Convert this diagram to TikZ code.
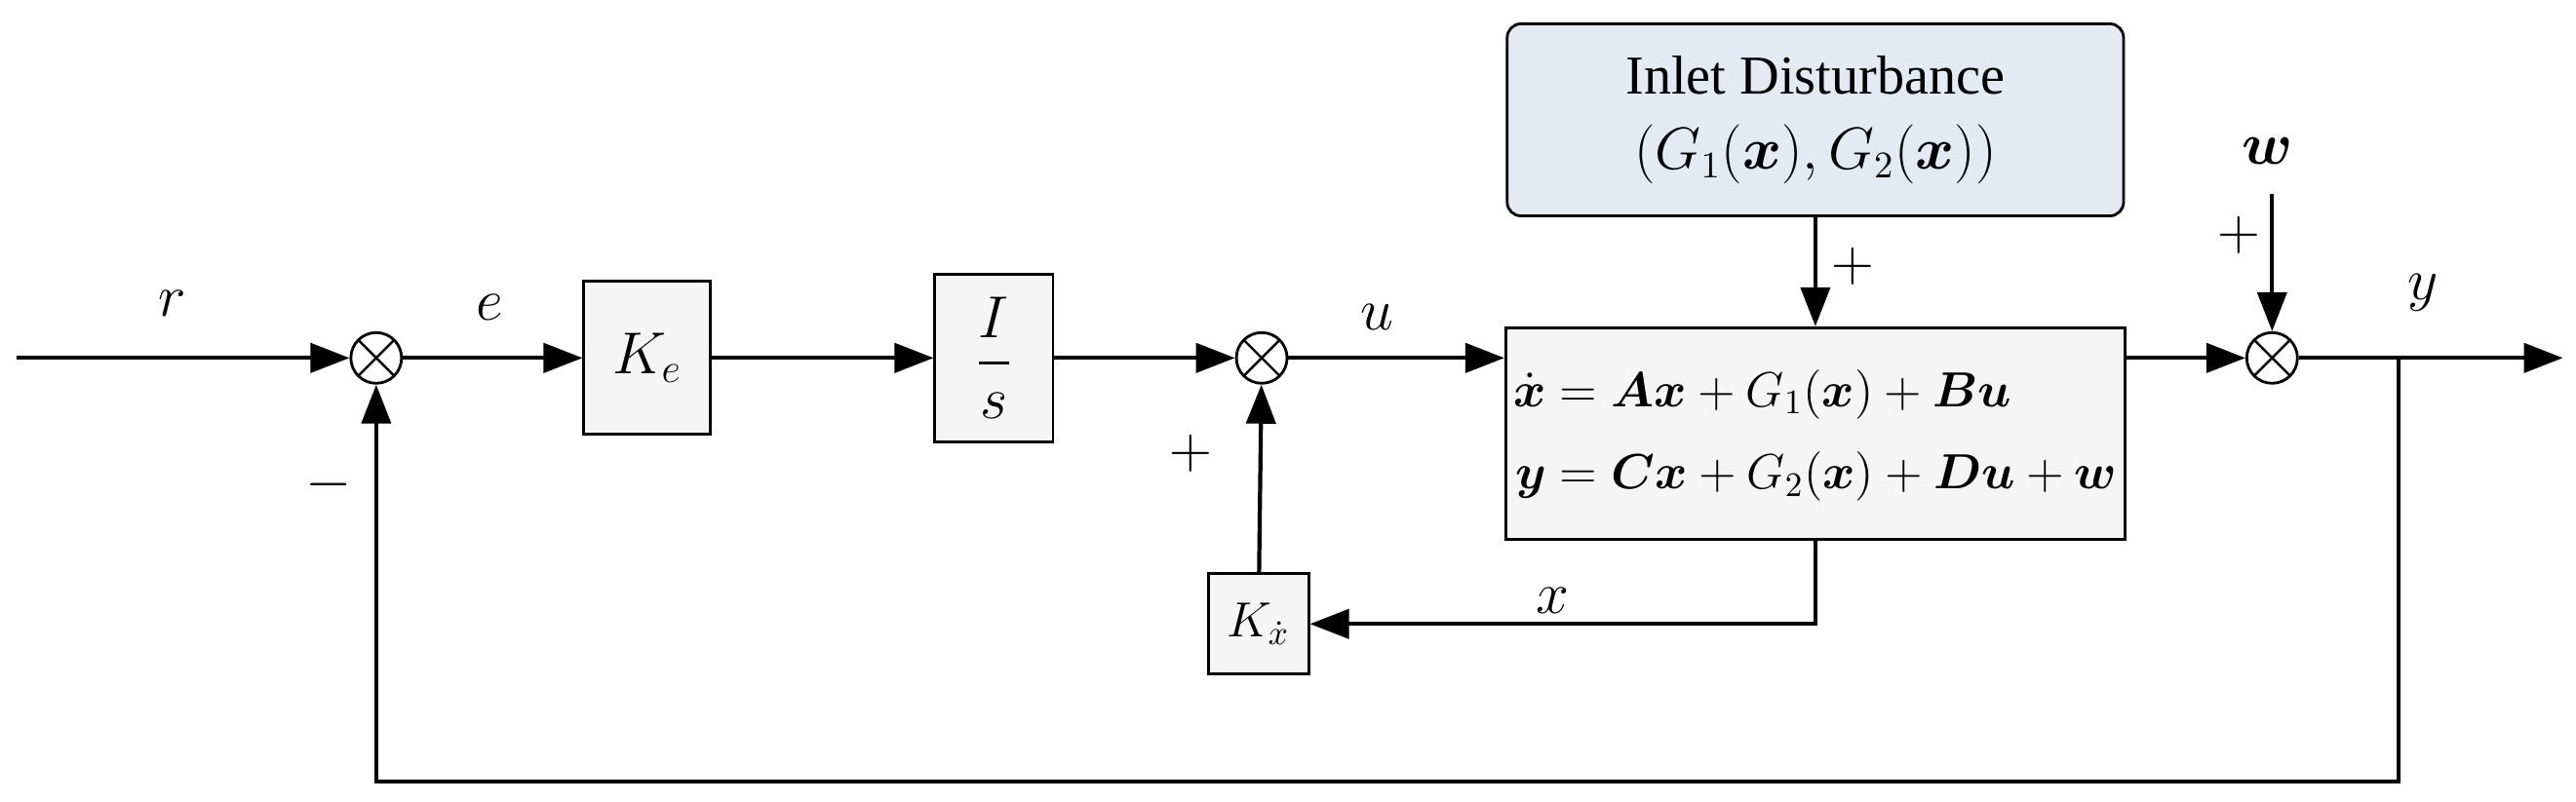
\documentclass[tikz,border=0pt]{standalone}
\usepackage{amsmath}
\usepackage{amssymb}
\usepackage{fontspec}
\setmainfont{Liberation Serif}
\usetikzlibrary{arrows.meta,positioning,calc}
\definecolor{distfill}{RGB}{228,234,244}
\tikzset{
  >={Triangle[length=4mm,width=3mm]},
  blk/.style={rectangle, draw, fill=gray!8, line width=0.8pt, inner sep=0pt},
  sumj/.style={draw, circle, fill=white, minimum size=5.2mm, inner sep=0pt, line width=0.8pt,
    path picture={\draw[line width=0.7pt] (path picture bounding box.north west) -- (path picture bounding box.south east)
      (path picture bounding box.north east) -- (path picture bounding box.south west);}},
  sig/.style={->, line width=1.2pt},
  lbl/.style={font=\fontsize{16}{19}\selectfont}
}
\begin{document}
\begin{tikzpicture}[x=0.01685cm, y=-0.01685cm]
    \useasboundingbox (0,0) rectangle (1568,488);
    % Blocks
    \node[blk, minimum width=1.30cm, minimum height=1.57cm] (ke) at (394,218) {\fontsize{17}{20}\selectfont $K_e$};
    \node[blk, minimum width=1.21cm, minimum height=1.72cm] (int) at (605,218) {\fontsize{17}{20}\selectfont $\dfrac{I}{s}$};
    \node[blk, minimum width=6.35cm, minimum height=2.17cm] (plant) at (1105,264)
        {\fontsize{14}{21}\selectfont $\begin{aligned}\dot{\boldsymbol{x}} &= \boldsymbol{Ax}+G_1(\boldsymbol{x})+\boldsymbol{Bu}\\ \boldsymbol{y} &= \boldsymbol{Cx}+G_2(\boldsymbol{x})+\boldsymbol{Du}+\boldsymbol{w}\end{aligned}$};
    \node[blk, fill=distfill, rounded corners=4pt, minimum width=6.32cm, minimum height=1.97cm, align=center,
          font=\fontsize{16}{22}\selectfont] (dist) at (1105,73)
        {Inlet Disturbance\\$(G_1(\boldsymbol{x}),G_2(\boldsymbol{x}))$};
    \node[blk, minimum width=1.03cm, minimum height=1.03cm] (kx) at (766,380) {\fontsize{14}{18}\selectfont $K_{\dot{x}}$};
    % Summing junctions
    \node[sumj] (s1) at (229,218) {};
    \node[sumj] (s2) at (768,218) {};
    \node[sumj] (s3) at (1383,218) {};
    % Coordinates
    \coordinate (in) at (10,218);
    \coordinate (out) at (1560,218);
    \coordinate (wtop) at (1383,118);
    \coordinate (tap) at (1460,218);
    \coordinate (fb) at (1460,476);
    \coordinate (fbl) at (229,476);
    \coordinate (xtap) at (1105,380);
    % Signals
    \draw[sig] (in) -- (s1);
    \draw[sig] (s1) -- (ke);
    \draw[sig] (ke) -- (int);
    \draw[sig] (int) -- (s2);
    \draw[sig] (s2) -- (s2 -| plant.west);
    \draw[sig] (s2 -| plant.east) -- (s3);
    \draw[sig] (s3) -- (out);
    \draw[sig] (dist) -- (plant);
    \draw[sig] (wtop) -- (s3);
    \draw[sig] (plant.south) -- (xtap) -- (kx);
    \draw[sig] (kx) -- (s2);
    \draw[sig] (tap) -- (fb) -- (fbl) -- (s1);
    % Labels
    \node[lbl] at (105,185) {$r$};
    \node[lbl] at (298,187) {$e$};
    \node[lbl] at (838,193) {$u$};
    \node[lbl] at (945,366) {$x$};
    \node[lbl] at (1475,178) {$y$};
    \node[lbl] at (1380,92) {$\boldsymbol{w}$};
    \node[lbl] at (1128,162) {$+$};
    \node[lbl] at (1363,143) {$+$};
    \node[lbl] at (725,276) {$+$};
    \node[lbl] at (200,295) {$-$};
\end{tikzpicture}
\end{document}
